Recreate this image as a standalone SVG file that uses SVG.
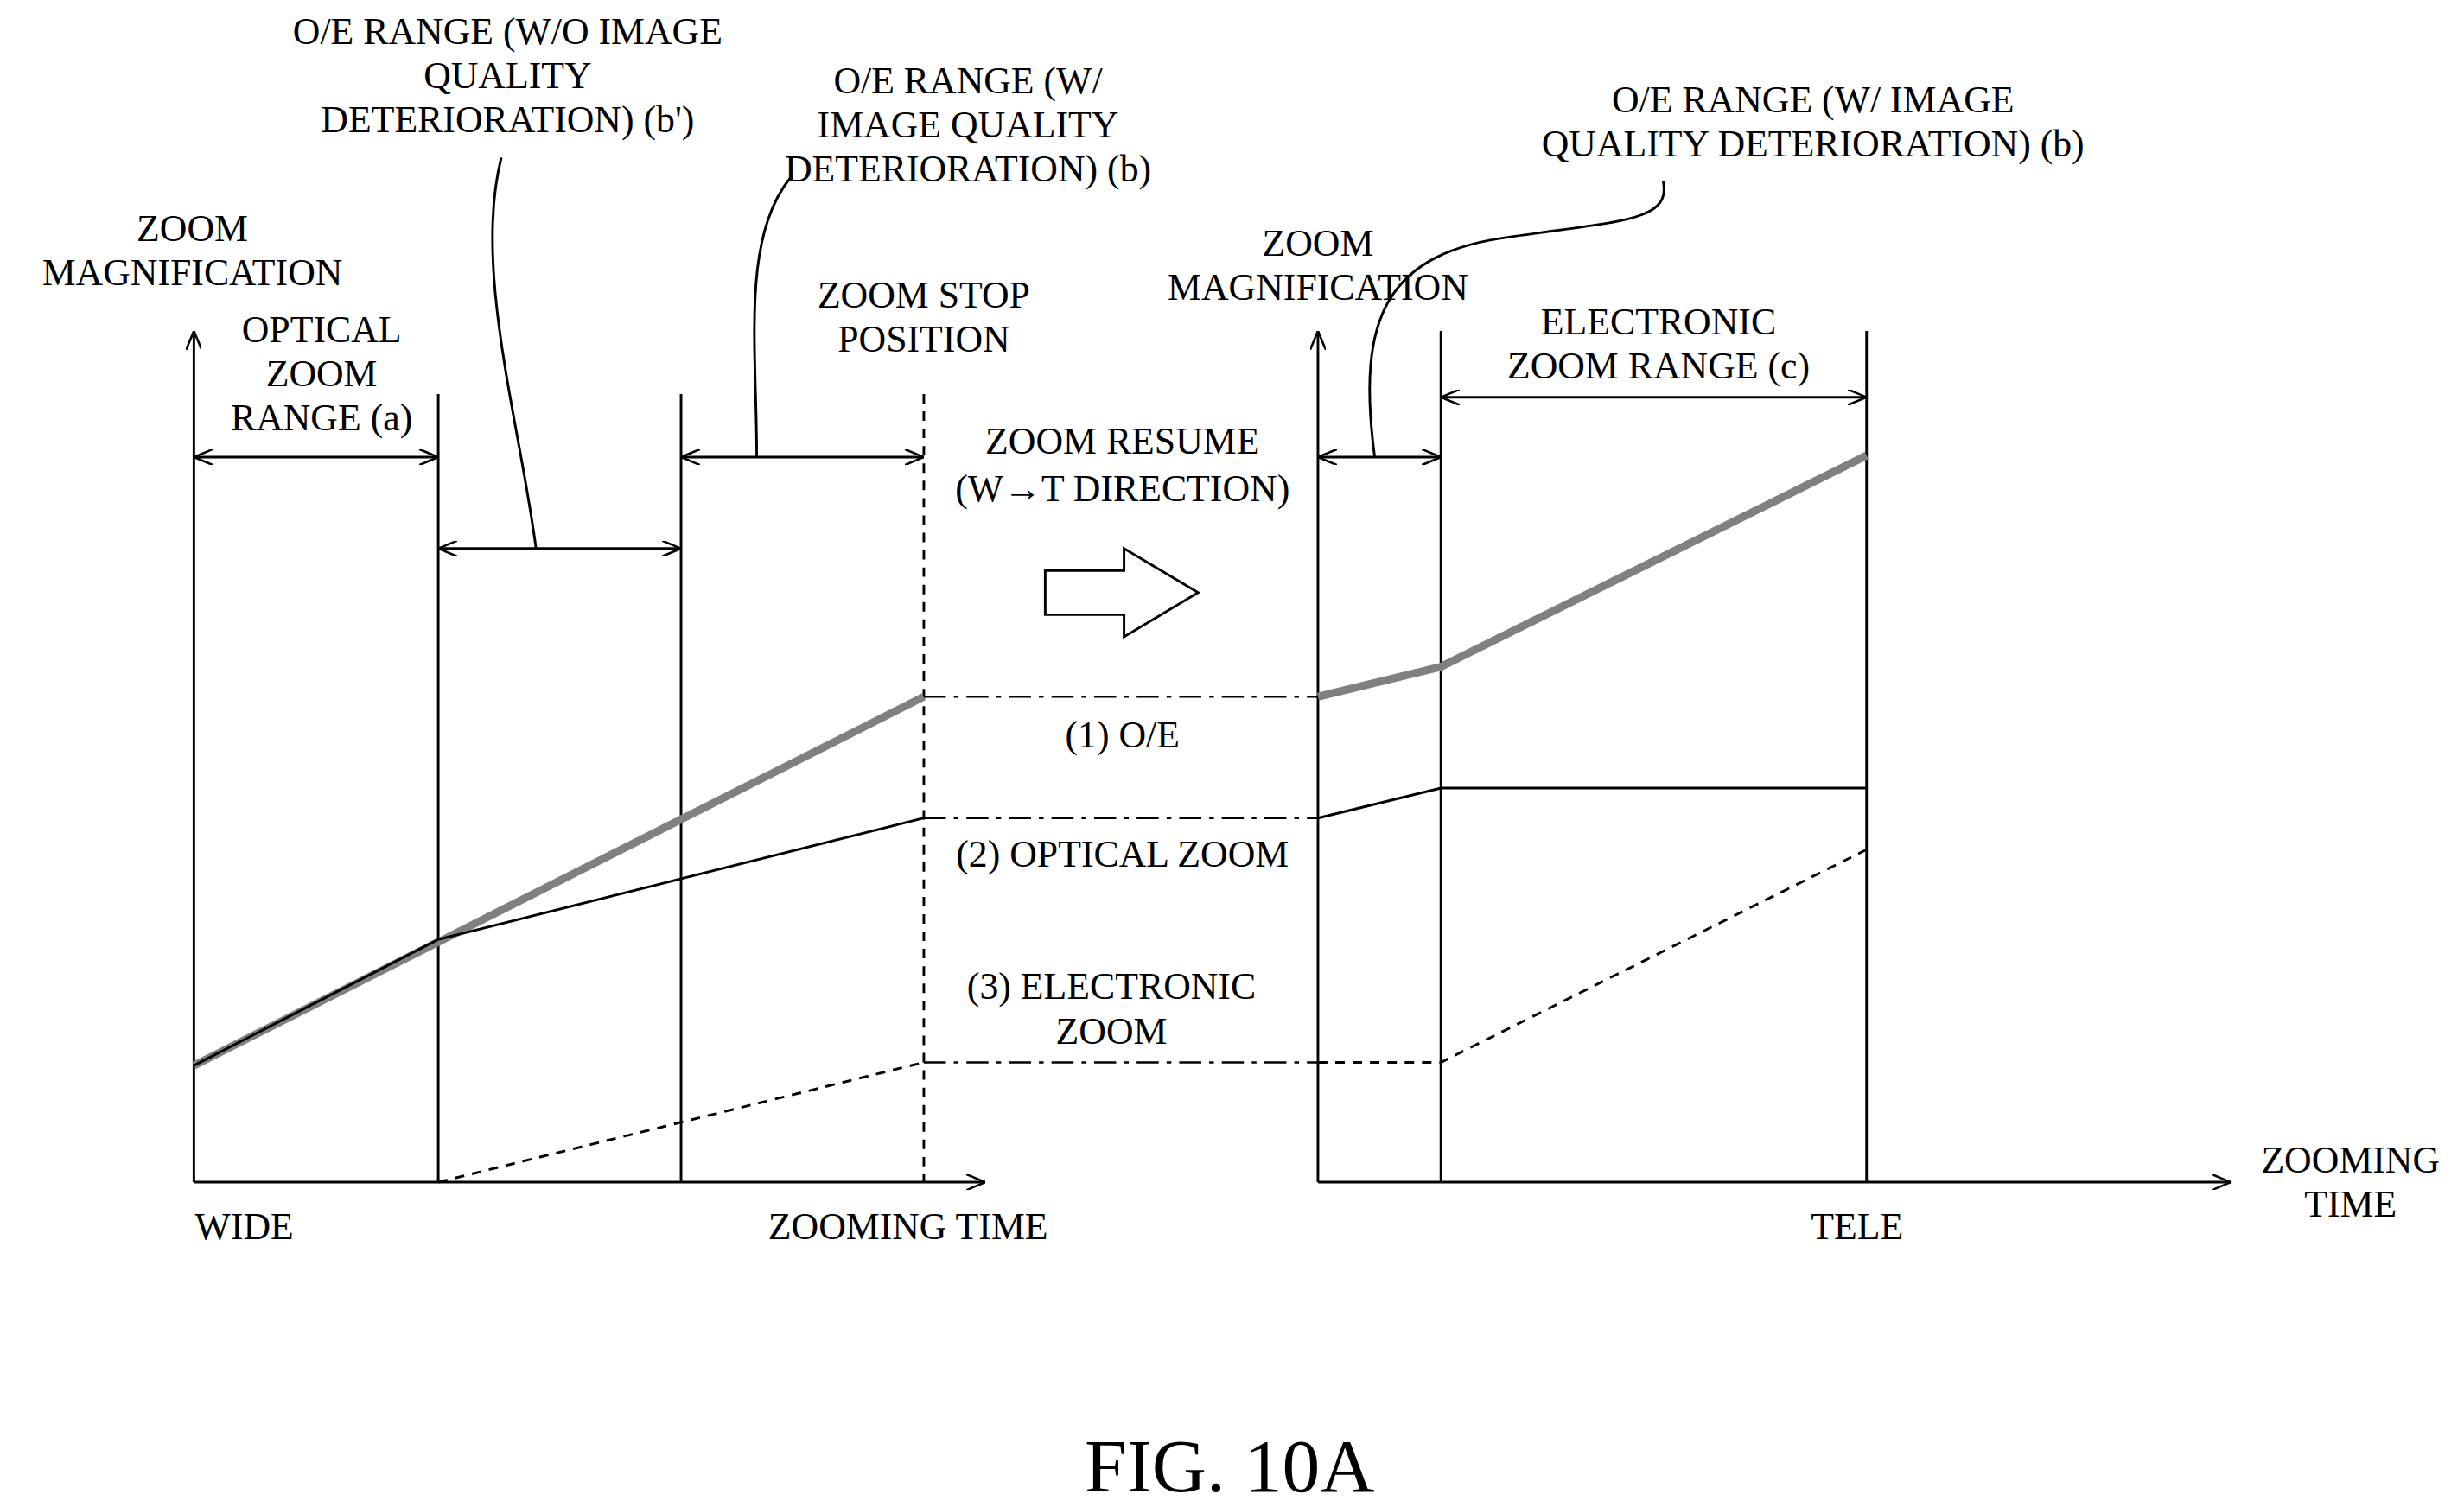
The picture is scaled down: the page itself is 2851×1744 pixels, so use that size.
<svg xmlns="http://www.w3.org/2000/svg" width="2851" height="1744" viewBox="0 0 2851 1744">
<style>
text{font-family:"Liberation Serif","Times New Roman",serif;font-size:24px;fill:#000;text-anchor:middle}
.l{fill:none;stroke:#000;stroke-width:1.6}
.g{fill:none;stroke:#808080;stroke-width:5}
.d{fill:none;stroke:#000;stroke-width:1.6;stroke-dasharray:6,5}
.dd{fill:none;stroke:#000;stroke-width:1.4;stroke-dasharray:14,5,3,5}
</style>
<defs>
<marker id="a" viewBox="0 0 12 10" refX="12" refY="5" markerWidth="12" markerHeight="10" markerUnits="userSpaceOnUse" orient="auto-start-reverse"><path d="M0,0L12,5L0,10" fill="none" stroke="#000" stroke-width="1.4"/></marker>
</defs>
<rect width="2851" height="1744" fill="#fff"/>
<g transform="scale(1.8241)">
<g id="connectors">
<path class="l" d="M123,750V210" marker-end="url(#a)"/>
<path class="l" d="M123,750H625" marker-end="url(#a)"/>
<path class="l" d="M278,250V750M432,250V750"/>
<path class="d" d="M586,250V750"/>
<path class="l" d="M123,290H278" marker-start="url(#a)" marker-end="url(#a)"/>
<path class="l" d="M432,290H586" marker-start="url(#a)" marker-end="url(#a)"/>
<path class="l" d="M278,348H432" marker-start="url(#a)" marker-end="url(#a)"/>
<path class="g" d="M123,676L586,442"/>
<path class="l" d="M123,676L278,596L586,519"/>
<path class="d" d="M278,750L586,674"/>
<path class="dd" d="M586,442H836M586,519H836M586,674H836"/>
<path class="l" d="M836,750V210" marker-end="url(#a)"/>
<path class="l" d="M836,750H1415" marker-end="url(#a)"/>
<path class="l" d="M914,210V750M1184,210V750"/>
<path class="l" d="M836,290H914" marker-start="url(#a)" marker-end="url(#a)"/>
<path class="l" d="M914,252H1184" marker-start="url(#a)" marker-end="url(#a)"/>
<path class="g" d="M836,442L914,423L1184,289"/>
<path class="l" d="M836,519L914,500H1184"/>
<path class="d" d="M836,674H914L1184,539"/>
<path class="l" d="M340,348C330,270 300,170 318,100"/>
<path class="l" d="M480,290C480,220 470,150 502,112"/>
<path class="l" d="M872,290C860,200 880,160 960,150C1030,140 1060,140 1055,115"/>
<path fill="#fff" stroke="#000" stroke-width="1.6" d="M663,362H713V348L760,376L713,404V390H663Z"/>
</g>
<g id="labels">
<text x="122" y="153">ZOOM</text><text x="122" y="181">MAGNIFICATION</text>
<text x="204" y="217">OPTICAL</text><text x="204" y="245">ZOOM</text><text x="204" y="273">RANGE (a)</text>
<text x="322" y="28">O/E RANGE (W/O IMAGE</text><text x="322" y="56">QUALITY</text><text x="322" y="84">DETERIORATION) (b')</text>
<text x="614" y="59">O/E RANGE (W/</text><text x="614" y="87">IMAGE QUALITY</text><text x="614" y="115">DETERIORATION) (b)</text>
<text x="586" y="195">ZOOM STOP</text><text x="586" y="223">POSITION</text>
<text x="712" y="288">ZOOM RESUME</text><text x="712" y="318">(W→T DIRECTION)</text>
<text x="712" y="474">(1) O/E</text>
<text x="712" y="550">(2) OPTICAL ZOOM</text>
<text x="705" y="634">(3) ELECTRONIC</text><text x="705" y="662">ZOOM</text>
<text x="155" y="786">WIDE</text>
<text x="576" y="786">ZOOMING TIME</text>
<text x="836" y="162">ZOOM</text><text x="836" y="190">MAGNIFICATION</text>
<text x="1150" y="71">O/E RANGE (W/ IMAGE</text><text x="1150" y="99">QUALITY DETERIORATION) (b)</text>
<text x="1052" y="212">ELECTRONIC</text><text x="1052" y="240">ZOOM RANGE (c)</text>
<text x="1178" y="786">TELE</text>
<text x="1491" y="744">ZOOMING</text><text x="1491" y="772">TIME</text>
<text x="780" y="946" style="font-size:48px">FIG. 10A</text>
</g>
</g>
</svg>
